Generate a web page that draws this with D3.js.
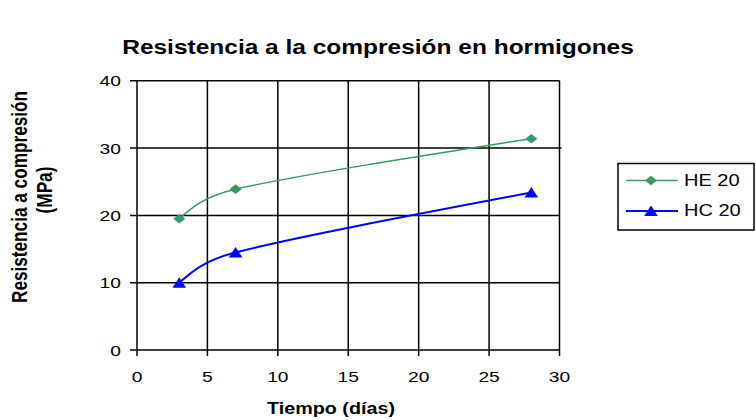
<!DOCTYPE html>
<html>
<head>
<meta charset="utf-8">
<script src="https://cdn.jsdelivr.net/npm/d3@7"></script>
<style>
  body { margin: 0; background: #fff; }
  text { font-family: "Liberation Sans", Arial, sans-serif; fill: #000; }
</style>
</head>
<body>
<div id="chart"></div>
<script>
var dias = [3, 7, 28];
var he20 = [19.5, 23.9, 31.4];
var hc20 = [10, 14.5, 23.4];
var xTicks = [0, 5, 10, 15, 20, 25, 30];
var yTicks = [0, 10, 20, 30, 40];
var seriesNames = ["HE 20", "HC 20"];

var green = "#339966";
var blue = "#0000ff";
var sx = 1.25; // the picture is a bit wider than tall

var width = 756, height = 420;

var svg = d3.select("#chart")
    .append("svg")
    .attr("width", width)
    .attr("height", height);

var x = d3.scaleLinear().domain([0, 30]).range([137, 559.5]);
var y = d3.scaleLinear().domain([0, 40]).range([350, 80.8]);

// text helper, stretched horizontally
function label(g, txt, px, py, size, weight, anchor, rot) {
    return g.append("text")
        .attr("transform", "translate(" + px + "," + py + ") scale(" + sx + ",1)" + (rot ? " rotate(" + rot + ")" : ""))
        .attr("text-anchor", anchor || "start")
        .style("font-size", size + "px")
        .style("font-weight", weight || "normal")
        .text(txt);
}

// excel-like smoothing: catmull-rom tangents, arms capped to half a segment
function smooth(pts) {
    var n = pts.length, arms = [];
    function dist(a, b) { return Math.hypot(b[0] - a[0], b[1] - a[1]); }
    for (var i = 1; i < n - 1; i++) {
        var tx = (pts[i + 1][0] - pts[i - 1][0]) / 6,
            ty = (pts[i + 1][1] - pts[i - 1][1]) / 6,
            len = Math.hypot(tx, ty),
            kb = Math.min(1, 0.5 * dist(pts[i - 1], pts[i]) / len),
            ka = Math.min(1, 0.5 * dist(pts[i], pts[i + 1]) / len);
        arms[i] = { b: [pts[i][0] - tx * kb, pts[i][1] - ty * kb], a: [pts[i][0] + tx * ka, pts[i][1] + ty * ka] };
    }
    var p = d3.path();
    p.moveTo(pts[0][0], pts[0][1]);
    for (var j = 0; j < n - 1; j++) {
        var c1 = arms[j] ? arms[j].a : null,
            c2 = arms[j + 1] ? arms[j + 1].b : null;
        if (!c1) c1 = c2 ? [(pts[j][0] + c2[0]) / 2, (pts[j][1] + c2[1]) / 2] : pts[j];
        if (!c2) c2 = [(pts[j + 1][0] + c1[0]) / 2, (pts[j + 1][1] + c1[1]) / 2];
        p.bezierCurveTo(c1[0], c1[1], c2[0], c2[1], pts[j + 1][0], pts[j + 1][1]);
    }
    return p.toString();
}

// grid
var grid = svg.append("g");
grid.selectAll("line.gx")
    .data(xTicks)
    .enter().append("line")
    .attr("class", "gx")
    .attr("x1", function(d) { return x(d); })
    .attr("x2", function(d) { return x(d); })
    .attr("y1", y(40))
    .attr("y2", y(0) + 6)
    .attr("stroke", "#000")
    .attr("stroke-width", 1.5);

grid.selectAll("line.gy")
    .data(yTicks)
    .enter().append("line")
    .attr("class", "gy")
    .attr("x1", x(0) - 7)
    .attr("x2", function(d) { return d === 30 ? x(30) + 2 : x(30); })
    .attr("y1", function(d) { return y(d); })
    .attr("y2", function(d) { return y(d); })
    .attr("stroke", "#000")
    .attr("stroke-width", 1.5);

// tick labels
yTicks.forEach(function(d) {
    label(svg, d, x(0) - 16, y(d) + 5.5, 15.4, "normal", "end");
});
xTicks.forEach(function(d) {
    label(svg, d, x(d), 382, 15.4, "normal", "middle");
});

// series
var heData = d3.zip(dias, he20);
var hcData = d3.zip(dias, hc20);
function toPx(data) { return data.map(function(d) { return [x(d[0]), y(d[1])]; }); }

svg.append("path")
    .attr("d", smooth(toPx(heData)))
    .attr("fill", "none")
    .attr("stroke", green)
    .attr("stroke-width", 1.5);

svg.append("path")
    .attr("d", smooth(toPx(hcData)))
    .attr("fill", "none")
    .attr("stroke", blue)
    .attr("stroke-width", 2);

var diamond = "M0,-4.8L6,0L0,4.8L-6,0Z";
var triangle = "M0,-5.4L6.8,5L-6.8,5Z";

svg.selectAll("path.he")
    .data(heData)
    .enter().append("path")
    .attr("class", "he")
    .attr("d", diamond)
    .attr("transform", function(d) { return "translate(" + x(d[0]) + "," + y(d[1]) + ")"; })
    .attr("fill", green);

svg.selectAll("path.hc")
    .data(hcData)
    .enter().append("path")
    .attr("class", "hc")
    .attr("d", triangle)
    .attr("transform", function(d) { return "translate(" + x(d[0]) + "," + y(d[1]) + ")"; })
    .attr("fill", blue);

// titles
label(svg, "Resistencia a la compresión en hormigones", 378, 54, 19.6, "bold", "middle");
label(svg, "Tiempo (días)", 331, 414, 15.8, "bold", "middle");
label(svg, "Resistencia a compresión", 27, 197, 17.2, "bold", "middle", -90);
label(svg, "(MPa)", 52, 190, 17.2, "bold", "middle", -90);

// legend
var leg = svg.append("g");
leg.append("rect")
    .attr("x", 618)
    .attr("y", 163.5)
    .attr("width", 136)
    .attr("height", 66.5)
    .attr("fill", "#fff")
    .attr("stroke", "#000")
    .attr("stroke-width", 1.5);

var legRows = [
    { name: seriesNames[0], color: green, shape: diamond, w: 1.5 },
    { name: seriesNames[1], color: blue, shape: triangle, w: 2 }
];
legRows.forEach(function(r, i) {
    var ly = 180.5 + i * 30.5;
    leg.append("line")
        .attr("x1", 626).attr("x2", 678)
        .attr("y1", ly).attr("y2", ly)
        .attr("stroke", r.color)
        .attr("stroke-width", r.w);
    leg.append("path")
        .attr("d", r.shape)
        .attr("transform", "translate(651," + ly + ")")
        .attr("fill", r.color);
    label(leg, r.name, 684, ly + 5, 16, "normal", "start");
});
</script>
</body>
</html>
